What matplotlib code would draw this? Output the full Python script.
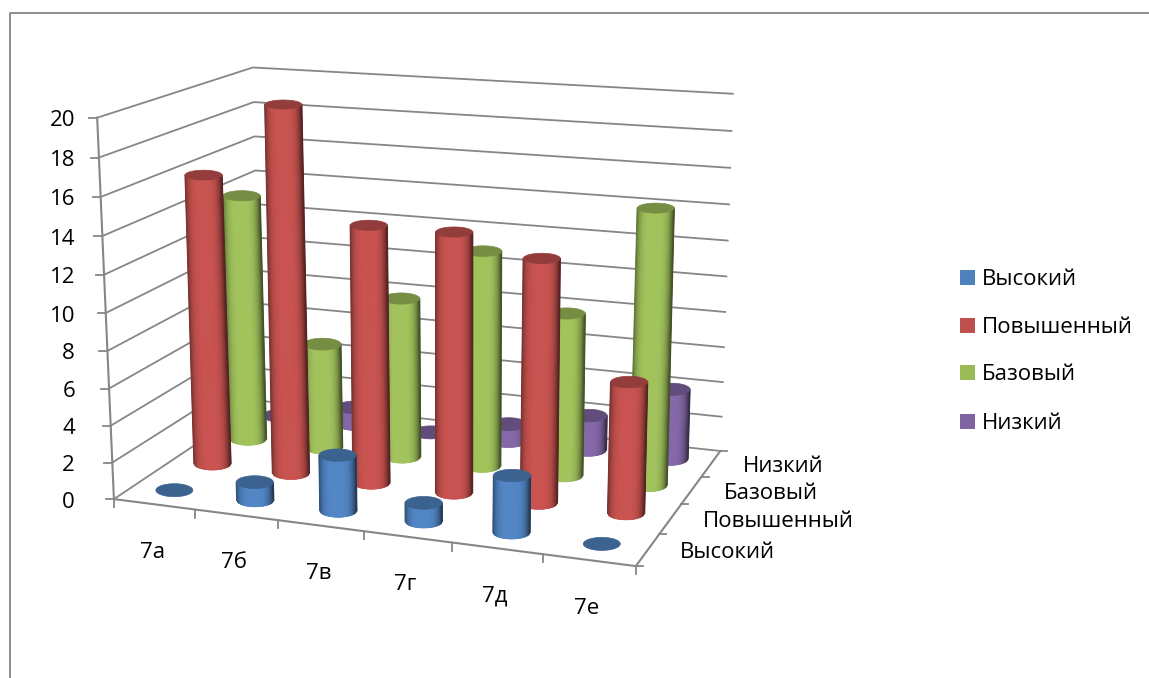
"""
3D cylinder column chart (levels by class), drawn with a small projection helper
"""
import matplotlib
matplotlib.use('Agg')
import matplotlib.pyplot as plt
from matplotlib.collections import PolyCollection
from matplotlib.colors import to_rgb
from matplotlib.patches import Polygon, Rectangle
import numpy as np

plt.rcParams['font.family'] = ['Open Sans', 'DejaVu Sans']

# Data
classes = ['7а', '7б', '7в', '7г', '7д', '7е']
levels = ['Высокий', 'Повышенный', 'Базовый', 'Низкий']
vysokiy = [0, 1, 3, 1, 3, 0]
povyshenny = [16, 20, 14, 14, 13, 7]
bazovy = [14, 6, 9, 12, 9, 15]
nizkiy = [0, 1, 0, 1, 2, 4]
z_ticks = [0, 2, 4, 6, 8, 10, 12, 14, 16, 18, 20]

series = [vysokiy, povyshenny, bazovy, nizkiy]
colors = ['#4F81BD', '#C0504D', '#9BBB59', '#8064A2']
GRAY = '#868686'
FS = 16

# Fit a camera matrix from the corners of the chart box (data -> pixels)
box = [(0, 0, 0), (6, 0, 0), (6, 4, 0), (0, 4, 0), (0, 0, 20), (0, 4, 20), (6, 4, 20)]
pix = [(113, 498), (636, 567), (720, 450), (262, 402), (98, 118), (252, 67), (733, 94)]
rows = []
rhs = []
for (x, y, z), (u, v) in zip(box, pix):
    rows.append([x, y, z, 1, 0, 0, 0, 0, -u * x, -u * y, -u * z])
    rows.append([0, 0, 0, 0, x, y, z, 1, -v * x, -v * y, -v * z])
    rhs += [u, v]
cam = np.linalg.lstsq(np.array(rows, float), np.array(rhs, float), rcond=None)[0]
cam = np.append(cam, 1).reshape(3, 4)


def project(x, y, z):
    u, v, w = cam @ np.array([x, y, z, 1.0])
    return np.array([u / w, v / w])


fig = plt.figure(figsize=(11.49, 6.78), dpi=100)
ax = fig.add_axes([0, 0, 1, 1])
ax.set_xlim(0, 1149)
ax.set_ylim(678, 0)
ax.axis('off')

# Chart frame
ax.plot([10, 10, 1149], [678, 12.5, 12.5], color=GRAY, lw=1.3)

# Walls
for z in z_ticks:
    pts = np.array([project(0, 0, z), project(0, 4, z), project(6, 4, z)])
    ax.plot(pts[:, 0], pts[:, 1], color=GRAY, lw=1.3, zorder=1)
    ax.plot([pts[0, 0] - 8, pts[0, 0]], [pts[0, 1], pts[0, 1]], color=GRAY, lw=1.3, zorder=1)
    ax.text(75, pts[0, 1] + 3, str(z), ha='right', va='center', fontsize=FS, color='black')

# Floor and axes
pts = np.array([project(0, 0, 20), project(0, 0, 0), project(6, 0, 0), project(6, 4, 0)])
ax.plot(pts[:, 0], pts[:, 1], color=GRAY, lw=1.5, zorder=1)
for i in range(len(classes) + 1):
    p = project(i, 0, 0)
    ax.plot([p[0], p[0]], [p[1], p[1] + 8], color=GRAY, lw=1.3, zorder=1)
for j in range(len(levels) + 1):
    p = project(6, j, 0)
    ax.plot([p[0], p[0] + 7], [p[1], p[1]], color=GRAY, lw=1.3, zorder=1)

# Axis labels
for i, name in enumerate(classes):
    p = project(i + 0.5, 0, 0)
    ax.text(p[0] - 2, p[1] + 48, name, ha='center', va='center', fontsize=FS, color='black')
for j, name in enumerate(levels):
    p = project(6, j + 0.5, 0)
    ax.text(p[0] + 32, p[1] + 3, name, ha='left', va='center', fontsize=FS, color='black')


def shade(color, t):
    # t runs 0..1 across the cylinder from left to right
    base = np.array(to_rgb(color))
    k = 1.05 - 0.55 * abs(2 * t - 0.95) ** 4
    return tuple(np.clip(base * k, 0, 1))


def cylinder(i, j, value, color, zo):
    bottom = project(i + 0.5, j + 0.5, 0)
    top = project(i + 0.5, j + 0.5, value)
    a = 18.5
    b_bot, b_top = 6.5, 6.5 - 0.1 * value
    dark = tuple(np.array(to_rgb(color)) * 0.76)
    theta = np.linspace(0, 2 * np.pi, 72)
    lid = np.column_stack([top[0] + a * np.cos(theta), top[1] + b_top * np.sin(theta)])
    if value > 0:
        # strips of even width across the visible half of the side
        edges = np.linspace(-1, 1, 38)
        quads = []
        cols = []
        for t0, t1 in zip(edges[:-1], edges[1:]):
            s0, s1 = np.sqrt(1 - t0 ** 2), np.sqrt(1 - t1 ** 2)
            quads.append([
                (bottom[0] + a * t0, bottom[1] + b_bot * s0),
                (bottom[0] + a * t1, bottom[1] + b_bot * s1),
                (top[0] + a * t1, top[1] + b_top * s1),
                (top[0] + a * t0, top[1] + b_top * s0),
            ])
            cols.append(shade(color, (t0 + t1 + 2) / 4))
        # solid body under the strips, the strip seams would let the grid through
        lower = [(bottom[0] + a * t, bottom[1] + b_bot * np.sqrt(1 - t ** 2)) for t in edges]
        body = lower + [(top[0] + a, top[1]), (top[0] - a, top[1])]
        ax.add_patch(Polygon(body, closed=True, facecolor=color, edgecolor='none', zorder=zo - 0.1, snap=False))
        side = PolyCollection(quads, facecolors=cols, edgecolors=cols, linewidths=0.4, zorder=zo)
        side.set_snap(False)
        ax.add_collection(side)
        for sign, col in ((-1, cols[0]), (1, cols[-1])):
            edge_line, = ax.plot([bottom[0] + sign * a, top[0] + sign * a], [bottom[1], top[1]],
                                 color=col, lw=0.9, zorder=zo + 0.05)
            edge_line.set_snap(False)
    ax.add_patch(Polygon(lid, closed=True, facecolor=dark, edgecolor=dark, lw=0.5, zorder=zo + 0.1, snap=False))


# Back row first, so that front cylinders cover the ones behind them
zo = 2
for j in range(len(levels) - 1, -1, -1):
    for i in range(len(classes)):
        cylinder(i, j, series[j][i], colors[j], zo)
        zo += 1

# Legend
legend_y = [277, 325, 372, 421]
for name, color, y in zip(levels, colors, legend_y):
    ax.add_patch(Rectangle((960, y - 7.5), 15, 15, facecolor=color, edgecolor='none'))
    ax.text(982, y + 2.5, name, ha='left', va='center', fontsize=FS, color='black')

plt.savefig('out.png', dpi=100)
plt.close()
